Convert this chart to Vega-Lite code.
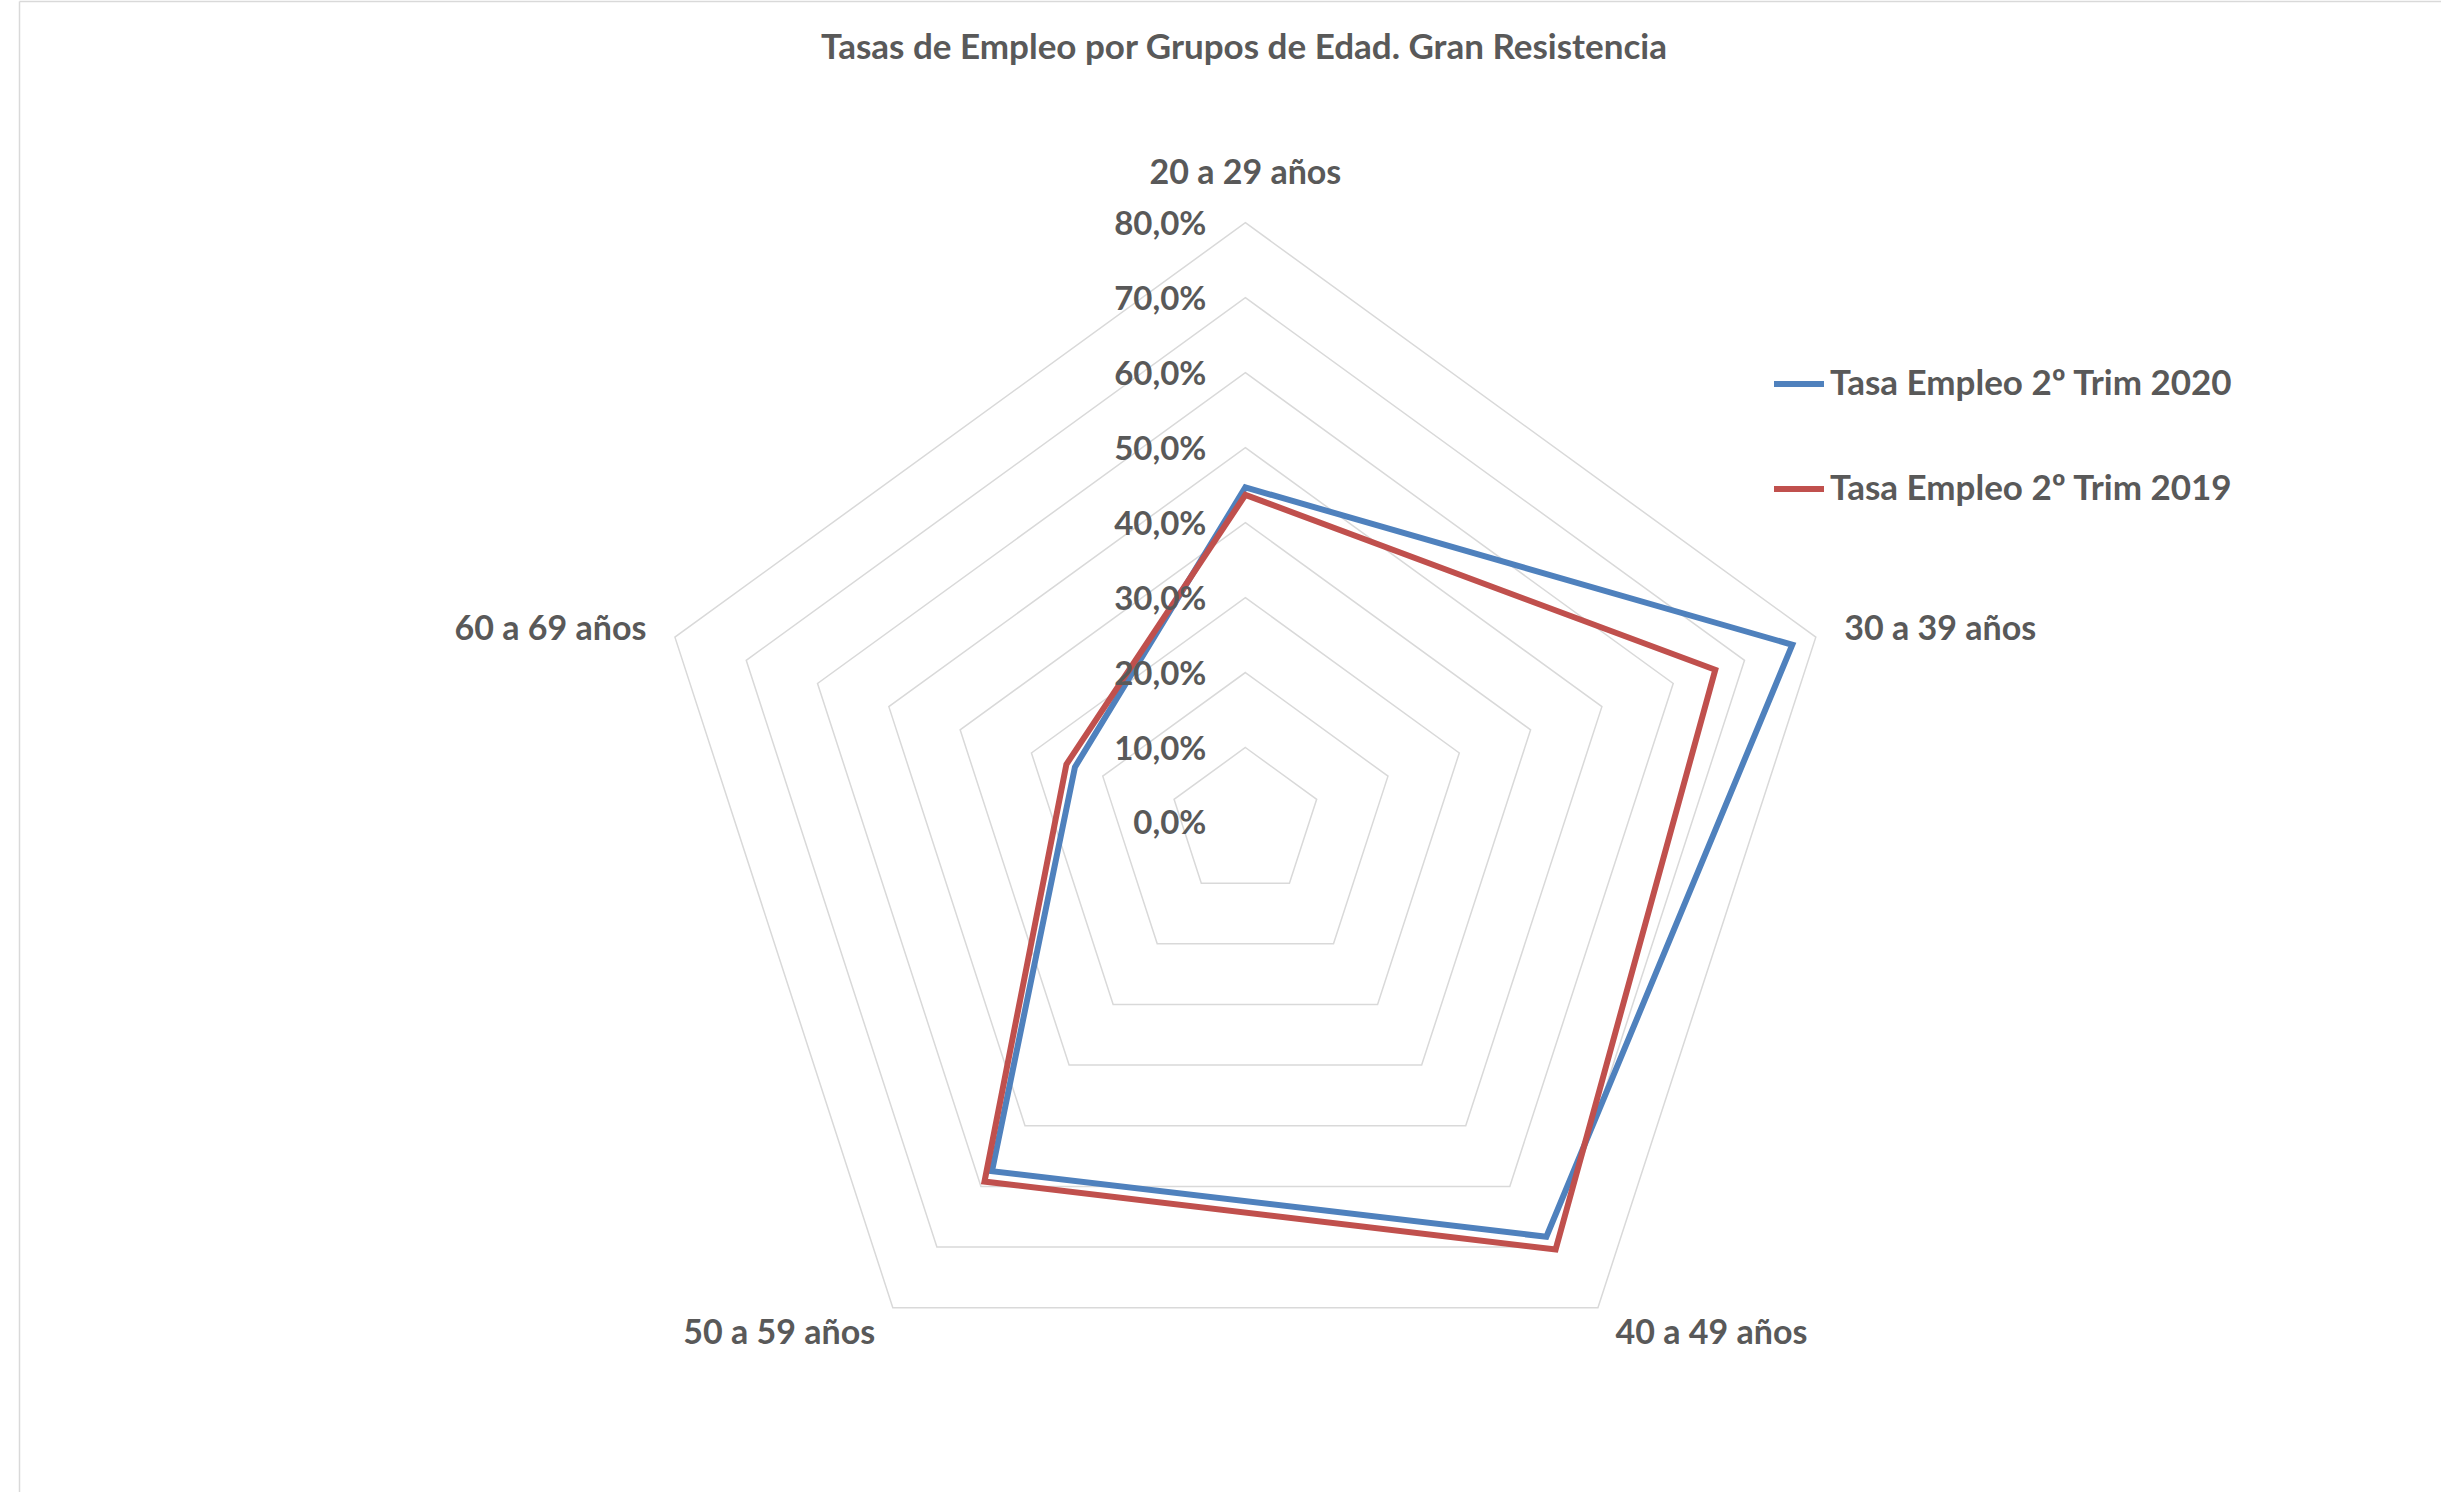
{
  "$schema": "https://vega.github.io/schema/vega-lite/v6.json",
  "width": 2422,
  "height": 1491,
  "autosize": {"type": "none"},
  "padding": {"left": 19, "top": 1, "right": 0, "bottom": 0},
  "background": "white",
  "title": {
    "text": "Tasas de Empleo por Grupos de Edad. Gran Resistencia",
    "anchor": "middle",
    "frame": "group",
    "orient": "top",
    "offset": -93,
    "baseline": "alphabetic",
    "dx": 14,
    "font": "Lato",
    "fontSize": 35,
    "fontWeight": "bold",
    "color": "#595959"
  },
  "datasets": {
    "series": [
      {"grupo": "20 a 29 años", "k": 0, "serie": "Tasa Empleo 2º Trim 2020", "tasa": 44.7},
      {"grupo": "30 a 39 años", "k": 1, "serie": "Tasa Empleo 2º Trim 2020", "tasa": 76.7},
      {"grupo": "40 a 49 años", "k": 2, "serie": "Tasa Empleo 2º Trim 2020", "tasa": 68.3},
      {"grupo": "50 a 59 años", "k": 3, "serie": "Tasa Empleo 2º Trim 2020", "tasa": 57.5},
      {"grupo": "60 a 69 años", "k": 4, "serie": "Tasa Empleo 2º Trim 2020", "tasa": 23.9},
      {"grupo": "20 a 29 años", "k": 0, "serie": "Tasa Empleo 2º Trim 2019", "tasa": 43.7},
      {"grupo": "30 a 39 años", "k": 1, "serie": "Tasa Empleo 2º Trim 2019", "tasa": 65.9},
      {"grupo": "40 a 49 años", "k": 2, "serie": "Tasa Empleo 2º Trim 2019", "tasa": 70.4},
      {"grupo": "50 a 59 años", "k": 3, "serie": "Tasa Empleo 2º Trim 2019", "tasa": 59.2},
      {"grupo": "60 a 69 años", "k": 4, "serie": "Tasa Empleo 2º Trim 2019", "tasa": 25.1}
    ],
    "grid": [
      {"level": 10, "k": [0, 1, 2, 3, 4]},
      {"level": 20, "k": [0, 1, 2, 3, 4]},
      {"level": 30, "k": [0, 1, 2, 3, 4]},
      {"level": 40, "k": [0, 1, 2, 3, 4]},
      {"level": 50, "k": [0, 1, 2, 3, 4]},
      {"level": 60, "k": [0, 1, 2, 3, 4]},
      {"level": 70, "k": [0, 1, 2, 3, 4]},
      {"level": 80, "k": [0, 1, 2, 3, 4]}
    ],
    "ticks": [
      {"level": 0, "label": "0,0%"},
      {"level": 10, "label": "10,0%"},
      {"level": 20, "label": "20,0%"},
      {"level": 30, "label": "30,0%"},
      {"level": 40, "label": "40,0%"},
      {"level": 50, "label": "50,0%"},
      {"level": 60, "label": "60,0%"},
      {"level": 70, "label": "70,0%"},
      {"level": 80, "label": "80,0%"}
    ],
    "cats": [
      {"grupo": "20 a 29 años", "k": 0},
      {"grupo": "30 a 39 años", "k": 1},
      {"grupo": "40 a 49 años", "k": 2},
      {"grupo": "50 a 59 años", "k": 3},
      {"grupo": "60 a 69 años", "k": 4}
    ]
  },
  "encoding": {
    "x": {
      "field": "px", "type": "quantitative",
      "scale": {"domain": [-163.57, 159.47], "nice": false, "zero": false},
      "axis": {"orient": "top", "domain": true, "domainColor": "#d9d9d9", "domainWidth": 1.5, "ticks": false, "labels": false, "grid": false, "title": null}
    },
    "y": {
      "field": "py", "type": "quantitative",
      "scale": {"domain": [-89.30, 109.57], "nice": false, "zero": false},
      "axis": {"orient": "left", "domain": true, "domainColor": "#d9d9d9", "domainWidth": 1.5, "ticks": false, "labels": false, "grid": false, "title": null}
    }
  },
  "layer": [
    {
      "data": {"name": "grid"},
      "transform": [
        {"flatten": ["k"]},
        {"calculate": "datum.level * cos(PI/2 - datum.k * 2 * PI / 5)", "as": "px"},
        {"calculate": "datum.level * sin(PI/2 - datum.k * 2 * PI / 5)", "as": "py"}
      ],
      "mark": {"type": "line", "interpolate": "linear-closed", "stroke": "#d9d9d9", "strokeWidth": 1.5},
      "encoding": {
        "detail": {"field": "level", "type": "nominal"},
        "order": {"field": "k", "type": "quantitative"}
      }
    },
    {
      "data": {"name": "series"},
      "transform": [
        {"calculate": "datum.tasa * cos(PI/2 - datum.k * 2 * PI / 5)", "as": "px"},
        {"calculate": "datum.tasa * sin(PI/2 - datum.k * 2 * PI / 5)", "as": "py"}
      ],
      "mark": {"type": "line", "interpolate": "linear-closed", "strokeWidth": 6, "strokeJoin": "miter"},
      "encoding": {
        "color": {
          "field": "serie",
          "type": "nominal",
          "scale": {"domain": ["Tasa Empleo 2º Trim 2020", "Tasa Empleo 2º Trim 2019"], "range": ["#4f81bd", "#c0504d"]},
          "legend": {
            "title": null,
            "orient": "none",
            "legendX": 1752,
            "legendY": 355,
            "symbolType": "stroke",
            "symbolSize": 2500,
            "symbolStrokeWidth": 6,
            "labelOffset": 3,
            "labelFont": "Lato",
            "labelFontSize": 35,
            "labelFontWeight": "bold",
            "labelColor": "#595959",
            "labelLimit": 1000,
            "rowPadding": 59,
            "padding": 0,
            "offset": 0
          }
        },
        "order": {"field": "k", "type": "quantitative"}
      }
    },
    {
      "data": {"name": "ticks"},
      "transform": [
        {"calculate": "0", "as": "px"},
        {"calculate": "datum.level", "as": "py"}
      ],
      "mark": {"type": "text", "align": "right", "baseline": "middle", "dx": -39, "dy": 2, "font": "Lato", "fontSize": 33, "fontWeight": "bold", "color": "#595959"},
      "encoding": {"text": {"field": "label", "type": "nominal"}}
    },
    {
      "data": {"name": "cats"},
      "transform": [
        {"filter": "datum.k == 0"},
        {"calculate": "84 * cos(PI/2 - datum.k * 2 * PI / 5)", "as": "px"},
        {"calculate": "84 * sin(PI/2 - datum.k * 2 * PI / 5)", "as": "py"}
      ],
      "mark": {"type": "text", "align": "center", "baseline": "middle", "dy": -19, "font": "Lato", "fontSize": 34, "fontWeight": "bold", "color": "#595959"},
      "encoding": {"text": {"field": "grupo", "type": "nominal"}}
    },
    {
      "data": {"name": "cats"},
      "transform": [
        {"filter": "datum.k == 1 || datum.k == 2"},
        {"calculate": "84 * cos(PI/2 - datum.k * 2 * PI / 5)", "as": "px"},
        {"calculate": "84 * sin(PI/2 - datum.k * 2 * PI / 5)", "as": "py"}
      ],
      "mark": {"type": "text", "align": "left", "baseline": "middle", "dy": 2, "font": "Lato", "fontSize": 34, "fontWeight": "bold", "color": "#595959"},
      "encoding": {"text": {"field": "grupo", "type": "nominal"}}
    },
    {
      "data": {"name": "cats"},
      "transform": [
        {"filter": "datum.k == 3 || datum.k == 4"},
        {"calculate": "84 * cos(PI/2 - datum.k * 2 * PI / 5)", "as": "px"},
        {"calculate": "84 * sin(PI/2 - datum.k * 2 * PI / 5)", "as": "py"}
      ],
      "mark": {"type": "text", "align": "right", "baseline": "middle", "dy": 2, "font": "Lato", "fontSize": 34, "fontWeight": "bold", "color": "#595959"},
      "encoding": {"text": {"field": "grupo", "type": "nominal"}}
    }
  ],
  "config": {
    "view": {"stroke": null}
  }
}
